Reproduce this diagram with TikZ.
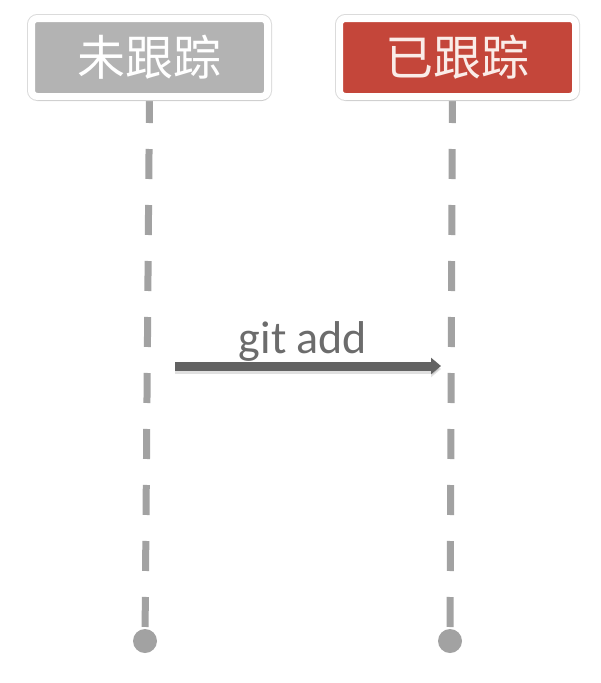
\documentclass[tikz,border=0pt]{standalone}
\usepackage{fontspec}
\setmainfont{Carlito}
\newfontfamily\cjk{Noto Sans CJK SC}
\usetikzlibrary{arrows.meta,shadows,backgrounds}
\definecolor{boxgray}{RGB}{179,179,179}
\definecolor{boxred}{RGB}{196,70,58}
\definecolor{linegray}{RGB}{162,162,162}
\definecolor{arrowgray}{RGB}{98,98,98}
\definecolor{textgray}{RGB}{108,108,108}

\begin{document}
\begin{tikzpicture}[x=1pt,y=-1pt,
   box/.style={draw=white,line width=7pt,rounded corners=6pt,minimum width=236pt,
     minimum height=78pt,inner sep=0pt,text=white,font=\cjk\fontsize{48}{50}\selectfont,
     preaction={draw=black!14,line width=9pt},
     drop shadow={shadow xshift=1pt,shadow yshift=-4pt,opacity=0.28}},
   life/.style={draw=linegray,line width=7pt,dash pattern=on 30pt off 26pt},
   dot/.style={circle,fill=linegray,minimum size=24pt,inner sep=0pt},
   push/.style={draw=arrowgray,line width=9pt,-{Triangle[length=10pt,width=16pt]}},
   cmdtext/.style={text=textgray,font=\fontsize{46}{50}\selectfont,anchor=base}]
   \useasboundingbox (0,0) rectangle (600,683);
   \node[box,fill=boxgray] (untracked) at (149.5,57.5) {未跟踪};
   \node[box,fill=boxred,text={rgb,255:red,250;green,236;blue,232}] (tracked) at (457.5,57.5) {已跟踪};
   \node[dot] (enda) at (145,641) {};
   \node[dot] (endb) at (450,641) {};
   \coordinate (from) at (175,366);
   \coordinate (to) at (441,366);
   \draw[push,draw=black,opacity=0.12,transform canvas={yshift=-3pt}] (from) -- (to);
   \draw[push] (from) -- (to);
   \node[cmdtext] (cmd) at (303,353) {git add};
   \begin{scope}[on background layer]
    \fill[white] (0,0) rectangle (600,683);
    \draw[life] ([yshift=7pt]untracked.south) -- (enda.center);
    \draw[life] ([xshift=-5pt,yshift=7pt]tracked.south) -- (endb.center);
   \end{scope}
\end{tikzpicture}
\end{document}
